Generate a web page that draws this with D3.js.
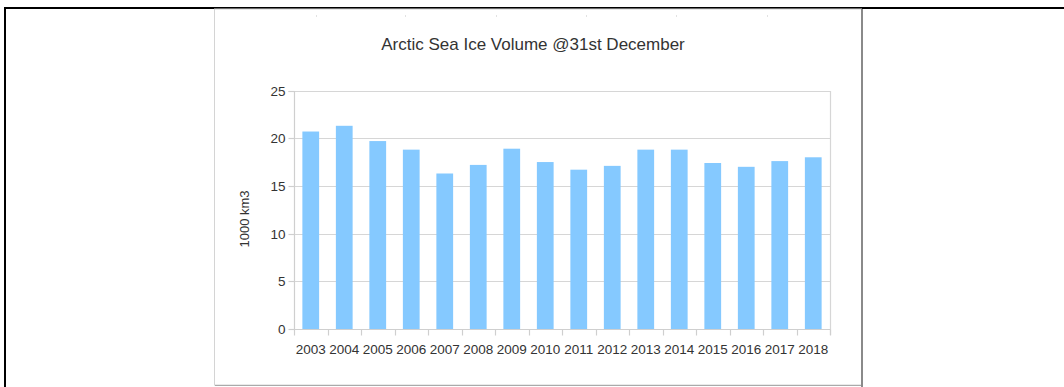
<!DOCTYPE html>
<html>
<head>
<meta charset="utf-8">
<script src="https://cdn.jsdelivr.net/npm/d3@7"></script>
<style>
  html, body { margin: 0; padding: 0; background: #fff; }
  svg { display: block; }
  text { font-family: "Liberation Sans", Arial, sans-serif; fill: #333; }
</style>
</head>
<body>
<svg id="chart" width="1064" height="387"></svg>
<script>
// Arctic sea ice volume on 31 December, thousand km³
const years = ["2003","2004","2005","2006","2007","2008","2009","2010",
               "2011","2012","2013","2014","2015","2016","2017","2018"];
const volumes = [20.7, 21.3, 19.7, 18.8, 16.3, 17.2, 18.9, 17.5,
                 16.7, 17.1, 18.8, 18.8, 17.4, 17.0, 17.6, 18.0];
const yTicks = [0, 5, 10, 15, 20, 25];
const titleText = "Arctic Sea Ice Volume @31st December";
const yLabelText = "1000 km3";

const svg = d3.select("#chart");

// outer frame (top and left edges)
svg.append("rect").attr("x", 4).attr("y", 7).attr("width", 1060).attr("height", 2).attr("fill", "#000");
svg.append("rect").attr("x", 4).attr("y", 7).attr("width", 2).attr("height", 380).attr("fill", "#000");

// chart panel
svg.append("rect").attr("x", 214.5).attr("y", 9).attr("width", 647).attr("height", 376)
  .attr("fill", "#fff").attr("stroke", "#d4d4d4").attr("stroke-width", 1);
svg.append("line").attr("x1", 215).attr("x2", 862).attr("y1", 385.5).attr("y2", 385.5)
  .attr("stroke", "#aaa");
svg.append("rect").attr("x", 861).attr("y", 9).attr("width", 2).attr("height", 378).attr("fill", "#8a8a8a");

// faint marks near the top of the panel
[316, 405, 496, 586, 676, 767].forEach(x => {
  svg.append("rect").attr("x", x).attr("y", 15).attr("width", 1).attr("height", 2).attr("fill", "#e2e2e2");
});

const plot = { left: 294, right: 830, top: 90.5, bottom: 329 };

const x = d3.scaleBand().domain(years).range([plot.left, plot.right]).paddingInner(0.5).paddingOuter(0.25);
const xEdge = d3.scaleLinear().domain([0, years.length]).range([plot.left, plot.right]);
const y = d3.scaleLinear().domain([0, 25]).range([plot.bottom, plot.top]);

const g = svg.append("g");

// horizontal gridlines
g.selectAll("line.grid").data(yTicks).join("line")
  .attr("class", "grid")
  .attr("x1", plot.left).attr("x2", plot.right)
  .attr("y1", d => Math.round(y(d)) + 0.5).attr("y2", d => Math.round(y(d)) + 0.5)
  .attr("stroke", "#d6d6d6").attr("stroke-width", 1.2);

// right border of plot area
g.append("line").attr("x1", plot.right + 0.5).attr("x2", plot.right + 0.5)
  .attr("y1", Math.round(y(25))).attr("y2", plot.bottom + 6)
  .attr("stroke", "#d6d6d6").attr("stroke-width", 1.2);

// bars
g.selectAll("rect.bar").data(years).join("rect")
  .attr("class", "bar")
  .attr("x", d => x(d))
  .attr("width", x.bandwidth())
  .attr("y", (d, i) => y(volumes[i]))
  .attr("height", (d, i) => y(0) - y(volumes[i]))
  .attr("fill", "#85c9ff");

// y axis
const yAxis = d3.axisLeft(y).tickValues(yTicks).tickSize(6).tickPadding(3);
const ya = g.append("g").attr("transform", `translate(${plot.left + 0.5},0)`).call(yAxis);
ya.select(".domain").attr("stroke", "#cfcfcf").attr("stroke-width", 1.2)
  .attr("d", `M-6,${Math.round(y(25)) + 0.5}H0V${plot.bottom + 0.5}`);
ya.selectAll(".tick line").attr("stroke", "#cfcfcf").attr("stroke-width", 1.2);
ya.selectAll(".tick").attr("transform", d => `translate(0,${Math.round(y(d)) + 0.5})`);
ya.selectAll(".tick text").attr("font-size", 13.5).attr("fill", "#333")
  .attr("font-family", "Liberation Sans, Arial, sans-serif");

// x axis: baseline and ticks at category boundaries
const xa = g.append("g").attr("transform", `translate(0,${plot.bottom + 0.5})`);
xa.append("line").attr("x1", plot.left).attr("x2", plot.right).attr("stroke", "#cfcfcf").attr("stroke-width", 1.2);
xa.selectAll("line.tick").data(d3.range(years.length + 1)).join("line")
  .attr("class", "tick")
  .attr("x1", i => Math.round(xEdge(i)) + 0.5).attr("x2", i => Math.round(xEdge(i)) + 0.5)
  .attr("y1", 0).attr("y2", 6)
  .attr("stroke", "#cfcfcf").attr("stroke-width", 1.2);
xa.selectAll("text").data(years).join("text")
  .attr("x", d => x(d) + x.bandwidth() / 2)
  .attr("y", 24)
  .attr("text-anchor", "middle")
  .attr("font-size", 13.5)
  .text(d => d);

// title
svg.append("text").attr("x", 533).attr("y", 49.5).attr("text-anchor", "middle")
  .attr("font-size", 17).text(titleText);

// y axis title
svg.append("text")
  .attr("transform", `translate(249,219) rotate(-90)`)
  .attr("text-anchor", "middle")
  .attr("font-size", 13)
  .text(yLabelText);
</script>
</body>
</html>
